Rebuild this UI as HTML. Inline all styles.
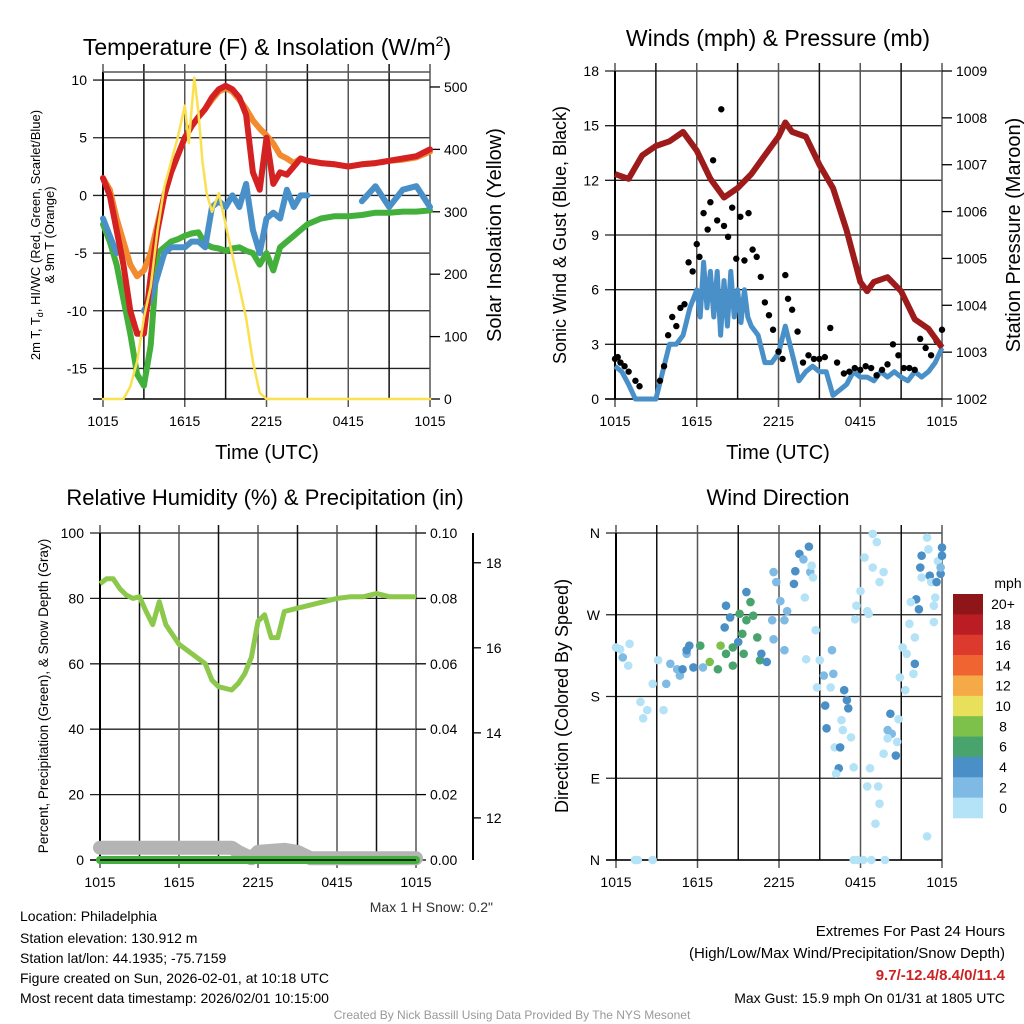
<!DOCTYPE html>
<html><head><meta charset="utf-8"><style>
html,body{margin:0;padding:0;background:#fff;}
svg{display:block;font-family:"Liberation Sans",sans-serif;}
</style></head><body>
<svg id="root" width="1024" height="1024" viewBox="0 0 1024 1024">
<g id="p1"></g>
<g id="p2"></g>
<g id="p3"></g>
<g id="p4"></g>
<g id="txt">
<text x="267" y="55" font-size="23" text-anchor="middle">Temperature (F) &amp; Insolation (W/m<tspan font-size="14" dy="-9">2</tspan><tspan dy="9">)</tspan></text>
<text x="778" y="46" font-size="23" text-anchor="middle">Winds (mph) &amp; Pressure (mb)</text>
<text x="265" y="505" font-size="22" text-anchor="middle">Relative Humidity (%) &amp; Precipitation (in)</text>
<text x="778" y="505" font-size="22" text-anchor="middle">Wind Direction</text>
<text x="493" y="912" font-size="14" text-anchor="end" fill="#333">Max 1 H Snow: 0.2"</text>
<text x="20" y="921" font-size="14">Location: Philadelphia</text>
<text x="20" y="943" font-size="14">Station elevation: 130.912 m</text>
<text x="20" y="963" font-size="14">Station lat/lon: 44.1935; -75.7159</text>
<text x="20" y="983" font-size="14">Figure created on Sun, 2026-02-01, at 10:18 UTC</text>
<text x="20" y="1003" font-size="14">Most recent data timestamp: 2026/02/01 10:15:00</text>
<text x="1005" y="936" font-size="15" text-anchor="end">Extremes For Past 24 Hours</text>
<text x="1005" y="958" font-size="15" text-anchor="end">(High/Low/Max Wind/Precipitation/Snow Depth)</text>
<text x="1005" y="980" font-size="15" font-weight="bold" fill="#cc2222" text-anchor="end">9.7/-12.4/8.4/0/11.4</text>
<text x="1005" y="1003" font-size="14" text-anchor="end">Max Gust: 15.9 mph On 01/31 at 1805 UTC</text>
<text x="512" y="1019" font-size="12" fill="#999" text-anchor="middle">Created By Nick Bassill Using Data Provided By The NYS Mesonet</text>
</g>
</svg>
<script>
// ---- data (time in hours since 1015 UTC) ----
const timeLabels = ["1015","1615","2215","0415","1015"];
const tT = [0,0.5,1,1.5,2,2.5,3,3.5,4,4.5,5,5.5,6,6.5,7,7.5,8,8.5,9,9.5,10,10.5,11,11.5,12,12.5,13,13.5,14,14.5,15,16,17,18,19,20,21,22,23,24];
const tempRed = [1.5,0,-3,-6,-10,-12,-12,-7,-3,0,2,3.5,5,6,6.8,7.5,8.5,9.2,9.5,9.2,8.5,7,2,0.5,5,1,2,1.8,2.5,3.2,3.0,2.8,2.7,2.5,2.7,2.8,3.0,3.2,3.4,4];
const temp9m = [1.5,0.5,-2,-4,-6,-7,-6.5,-5,-2.5,0,2,3.5,5,6,6.8,7.5,8.3,9,9.3,9,8.3,7.5,6.5,5.8,5.2,4.5,3.5,3.2,2.8,3.2,3.0,2.8,2.7,2.5,2.7,2.8,3.0,3.1,3.3,3.8];
const dewGreen = [-2.5,-4,-6,-9,-12,-15.5,-16.5,-13,-5,-4.5,-4,-3.8,-3.5,-3.3,-3.2,-4.2,-4.5,-4.6,-4.8,-4.6,-4.5,-4.8,-5,-6,-5,-6.5,-4.5,-4,-3.5,-3,-2.5,-2.0,-1.8,-1.8,-1.7,-1.5,-1.5,-1.4,-1.4,-1.3];
const chillBlue = [-2,-3.5,-5,null,null,null,-10,-9,-7,-5,-4.5,-4.5,-4.5,-4,-4,-4.5,-1,-0.5,-1,0,-1,1,-3,-5,-2,-1.5,-2,0.5,-1,0,0,null,null,null,-0.5,0.8,-1,0.5,0.8,-1];
const solarT = [0,1.5,2,2.5,3,3.5,4,4.5,5,5.5,6,6.3,6.7,7,7.3,7.6,8,8.5,9,9.5,10,10.5,11,11.5,12,24];
const solar = [0,0,20,60,130,180,270,340,380,420,470,410,515,460,380,330,300,330,280,230,180,130,60,10,0,0];
const windT = [0,0.5,1,1.5,2,2.5,3,3.5,4,4.5,5,5.5,6,6.25,6.5,6.75,7,7.25,7.5,7.75,8,8.25,8.5,8.75,9,9.25,9.5,9.75,10,10.5,11,11.5,12,12.5,13,13.5,14,14.5,15,15.5,16,16.5,17,17.5,18,18.5,19,19.5,20,20.5,21,21.5,22,22.5,23,23.5,24];
const windSpeed = [1.8,1.5,0.8,0,0,0,0,1.5,3,3,3.5,5,6,4.5,7.5,5,7,4.5,7,3.5,6.5,4,7,4.5,6,4.2,6,4.5,4,3.5,2,2,2.5,4,2.5,1,1.5,1.8,1.5,1.5,0.2,0.5,0.8,1.5,1.2,1.2,1.0,1.5,1.2,1.5,1.2,1.0,1.5,1.2,1.5,2.0,2.8];
const gustT = [0,0.2,0.4,0.7,1,1.5,1.8,3.3,3.6,3.9,4.2,4.5,4.8,5.1,5.4,5.7,6,6.2,6.5,6.8,7,7.2,7.5,7.8,8,8.3,8.6,8.9,9.2,9.5,9.8,10.1,10.4,10.7,11,11.3,11.6,12,12.3,12.5,12.7,13,13.4,13.8,14.2,14.6,15,15.4,15.8,16.3,16.8,17.2,17.6,18,18.4,18.8,19.2,19.6,20,20.4,20.8,21.2,21.6,22,22.4,22.8,23.2,23.6,24];
const gustSpeed = [2.2,2.3,2.0,1.8,1.5,1.0,0.7,1.0,1.8,3.5,4.5,4,5,5.2,7.5,7,8.5,7.8,10.2,9.3,10.8,13.1,9.8,15.9,9.5,8.9,10.5,7.7,10,7.6,10.2,8.2,7.8,6.7,5.3,4.6,3.8,2.6,2.2,6.8,5.5,4.9,3.7,2.0,2.4,2.2,2.2,2.3,3.9,2.0,1.4,1.5,1.7,1.6,1.8,1.7,1.3,1.6,1.9,3.0,2.4,1.7,1.7,1.6,3.3,2.8,2.4,3.2,3.8];
const presT = [0,1,2,3,4,5,6,7,8,9,10,11,12,12.5,13,14,15,16,17,18,18.5,19,20,21,22,23,24];
const pressure = [1006.8,1006.7,1007.2,1007.4,1007.5,1007.7,1007.3,1006.7,1006.3,1006.5,1006.8,1007.2,1007.6,1007.9,1007.7,1007.6,1007.0,1006.5,1005.6,1004.5,1004.3,1004.5,1004.6,1004.3,1003.7,1003.5,1003.1];
const rhT = [0,0.5,1,1.5,2,2.5,3,3.5,4,4.5,5,6,7,8,8.5,9,10,10.5,11,11.5,12,12.5,13,13.5,14,15,16,17,18,19,20,21,22,23,24];
const rh = [84.5,86,86,83,81,80,80.5,76,72,79,72,66,63,60,55,53,52,54,57,62,73,75,68,68,76,77,78,79,80,80.5,80.5,81.5,80.5,80.5,80.5];
const snowT = [0,10,10.5,11.5,12,14,15,16,24];
const snowDepth = [11.3,11.3,11.2,11.05,11.2,11.25,11.2,11.05,11.05];
const precipT = [0,24];
const precip = [0,0];
const dirT = [0,0.3,0.5,0.9,1,1.8,2.3,2,2.7,3.1,3.5,3.7,4,4.5,4.7,5.2,5.7,5.4,6.4,6.2,6.2,6.9,7.7,7.5,8.1,8.6,9.1,9.6,9.9,10.1,9.3,9.4,10.4,10.6,8.6,8.1,8,8.4,9,9.6,10.7,11.1,4.9,5.2,11.6,11.8,12.1,12.6,13.1,13.2,13.5,13.8,14.2,14.3,14.4,14.7,11.6,12.4,11.5,12.4,13.9,14,14.5,15,14.8,15.3,15.9,16,15.4,15.5,15.8,16.1,16.5,16.6,16.7,16.8,17,17.1,17.3,16.4,16.2,17.5,17.7,17.6,18,18.3,18.5,18.6,18.7,18.5,18.9,19.2,18.9,19.3,19.4,19.1,19.4,19.7,20.2,20,20.3,20,20.6,19.7,20.7,20.8,20.9,21.1,21.4,21.3,21.6,21.9,22,22.1,22.3,21.7,22,22.4,22.5,22.5,22.9,23,23.1,23.2,23.4,23.4,23.5,23.6,23.7,23.9,24,24,23.9,22.9,1.4,1.6,2.7,17.5,17.8,18.2,18.8,19.8];
const dirDeg = [234,232,223,214,238,174,165,156,194,220,165,194,216,210,203,227,212,236,212,236,236,218,236,210,227,234,271,264,284,269,249,227,245,220,214,280,256,267,240,295,227,218,210,231,317,306,285,274,304,318,337,331,345,317,324,253,243,231,264,264,289,221,311,220,190,203,231,205,170,145,190,124,124,154,143,187,176,167,135,101,95,102,280,265,296,333,274,271,101,81,359,350,322,81,62,40,306,317,161,143,139,134,115,117,130,155,201,234,227,187,260,205,216,287,276,284,245,322,311,335,355,342,313,306,280,262,289,306,329,315,344,335,322,26,0,0,0,0,0,0,0,0];
const dirSpeed = [1,1,2,1,1,1,1,1,1,1,1,2,2,2,3,3,5,5,3,3,7,9,9,7,7,7,7,7,7,7,7,7,7,7,7,5,5,5,5,5,5,5,5,5,3,3,3,3,5,5,5,3,5,3,1,1,3,3,3,3,1,1,1,1,1,3,3,3,5,5,1,1,5,1,1,5,5,5,1,5,1,1,1,1,1,1,1,1,1,1,1,1,1,1,1,1,1,1,5,3,3,1,5,1,1,1,1,1,1,1,1,1,5,5,5,1,1,5,1,5,1,1,5,1,1,1,1,5,1,5,5,5,3,1,1,1,1,1,1,1,1,1];
const legendLabels = ["20+","18","16","14","12","10","8","6","4","2","0"];
const legendColors = ["#8e1518","#bb1d24","#dc3a2c","#ef6430","#f5a947","#e8e05a","#7dc14a","#48a46c","#4a8fc5","#7fbae4","#b4e2f6"];
const speedColors = ["#b4e2f6","#7fbae4","#4a8fc5","#48a46c","#7dc14a","#e8e05a","#f5a947","#ef6430","#dc3a2c","#bb1d24","#8e1518"];

const NS="http://www.w3.org/2000/svg";
function mk(parent,tag,attrs){const e=document.createElementNS(NS,tag);for(const k in attrs)e.setAttribute(k,attrs[k]);parent.appendChild(e);return e;}
function scale(d0,d1,r0,r1){return v=>r0+(v-d0)/(d1-d0)*(r1-r0);}
function pathD(xs,ys,sx,sy){let d="",pen=false;for(let i=0;i<xs.length;i++){if(ys[i]===null){pen=false;continue;}d+=(pen?"L":"M")+sx(xs[i]).toFixed(1)+","+sy(ys[i]).toFixed(1);pen=true;}return d;}

function frame(g,L,R,T,B,sx,ticksY,sy,labelsY,rightTicks,rsy,rlabels){
  ticksY.forEach((v,i)=>{const y=sy(v);const l=mk(g,'line',{x1:L-10,x2:R,y1:y,y2:y,stroke:'#222','stroke-width':1.3});
  
  const t=mk(g,'text',{x:L-16,y:y+5,'font-size':14,'text-anchor':'end'});t.textContent=labelsY[i];
  });
  for(let h=0;h<=24;h+=3){const x=sx(h);const l=mk(g,'line',{x1:x,x2:x,y1:T-8,y2:B+(h%6==0?8:0),stroke:h%6==0?'#555':'#111','stroke-width':1.5});
  }
  timeLabels.forEach((s,i)=>{const t=mk(g,'text',{x:sx(i*6),y:B+27,'font-size':14,'text-anchor':'middle'});t.textContent=s;
  });
  const ax=mk(g,'line',{x1:L,x2:L,y1:T,y2:B,stroke:'#000','stroke-width':2});
  
  const bx=mk(g,'line',{x1:L-10,x2:R,y1:B,y2:B,stroke:'#000','stroke-width':1.5});
  
  if(rightTicks){rightTicks.forEach((v,i)=>{const y=rsy(v);mk(g,'line',{x1:R,x2:R+10,y1:y,y2:y,stroke:'#000','stroke-width':1.3});
   const t=mk(g,'text',{x:R+14,y:y+5,'font-size':14});t.textContent=rlabels[i];
   });}
}

// ---- Panel 1 ----
(function(){const g=document.getElementById('p1');const L=103,R=430,T=72,B=399;
 const sx=scale(0,24,L,R),sy=scale(-17.65,10.7,B,T),rsy=scale(0,524,B,T);
 frame(g,L,R,T,B,sx,[10,5,0,-5,-10,-15],sy,["10","5","0","-5","-10","-15"],[0,100,200,300,400,500],rsy,["0","100","200","300","400","500"]);
 mk(g,'line',{x1:L,x2:R,y1:T,y2:T,stroke:'#555','stroke-width':1.5});
 const add=(d,c,w,n)=>{const p=mk(g,'path',{d:d,fill:'none',stroke:c,'stroke-width':w,'stroke-linejoin':'round','stroke-linecap':'round'});};
 add(pathD(tT,temp9m,sx,sy),'#f28a30',6,'temp-9m-line');
 add(pathD(tT,dewGreen,sx,sy),'#44b03c',6,'dewpoint-line');
 add(pathD(tT,chillBlue,sx,sy),'#4a90c8',6,'windchill-line');
 add(pathD(tT,tempRed,sx,sy),'#d42222',6,'temp-2m-line');
 add(pathD(solarT,solar,sx,rsy),'#fbe050',2.5,'solar-line');
 let t=mk(g,'text',{x:267,y:459,'font-size':20,'text-anchor':'middle'});t.textContent='Time (UTC)';
 t=mk(g,'text',{transform:'translate(40,235) rotate(-90)','font-size':13,'text-anchor':'middle'});t.innerHTML='2m T, T<tspan font-size="9" dy="3">d</tspan><tspan dy="-3">, HI/WC (Red, Green, Scarlet/Blue)</tspan>';
 t=mk(g,'text',{transform:'translate(54,235) rotate(-90)','font-size':13,'text-anchor':'middle'});t.textContent='& 9m T (Orange)';
 t=mk(g,'text',{transform:'translate(501,235) rotate(-90)','font-size':20,'text-anchor':'middle'});t.textContent='Solar Insolation (Yellow)';
})();

// ---- Panel 2 ----
(function(){const g=document.getElementById('p2');const L=615,R=942,T=71,B=399;
 const sx=scale(0,24,L,R),sy=scale(0,18,B,T),rsy=scale(1002,1009,B,T);
 frame(g,L,R,T,B,sx,[18,15,12,9,6,3,0],sy,["18","15","12","9","6","3","0"],[1002,1003,1004,1005,1006,1007,1008,1009],rsy,["1002","1003","1004","1005","1006","1007","1008","1009"]);
 let p=mk(g,'path',{d:pathD(windT,windSpeed,sx,sy),fill:'none',stroke:'#4a90c8','stroke-width':5,'stroke-linejoin':'round'});
 gustT.forEach((h,i)=>{const c=mk(g,'circle',{cx:sx(h),cy:sy(gustSpeed[i]),r:3.2,fill:'#000'});
  });
 p=mk(g,'path',{d:pathD(presT,pressure,sx,rsy),fill:'none',stroke:'#9e1b1b','stroke-width':6,'stroke-linejoin':'round'});
 let t=mk(g,'text',{x:778,y:459,'font-size':20,'text-anchor':'middle'});t.textContent='Time (UTC)';
 t=mk(g,'text',{transform:'translate(566,235) rotate(-90)','font-size':18,'text-anchor':'middle'});t.textContent='Sonic Wind & Gust (Blue, Black)';
 t=mk(g,'text',{transform:'translate(1020,235) rotate(-90)','font-size':20,'text-anchor':'middle'});t.textContent='Station Pressure (Maroon)';
})();

// ---- Panel 3 ----
(function(){const g=document.getElementById('p3');const L=100,R=416,T=533,B=860;
 const sx=scale(0,24,L,R),sy=scale(0,100,B,T),ssy=scale(11.01,18.7,B,T);
 frame(g,L,R,T,B,sx,[100,80,60,40,20,0],sy,["100","80","60","40","20","0"],[0,0.02,0.04,0.06,0.08,0.1].map(v=>v*1000),scale(0,100,B,T),["0.00","0.02","0.04","0.06","0.08","0.10"]);
 const ax=mk(g,'line',{x1:473,x2:473,y1:T,y2:B,stroke:'#000','stroke-width':2});
 [12,14,16,18].forEach(v=>{const y=ssy(v);mk(g,'line',{x1:473,x2:481,y1:y,y2:y,stroke:'#000','stroke-width':1.3});
  const t=mk(g,'text',{x:486,y:y+5,'font-size':14});t.textContent=String(v);});
 let p=mk(g,'path',{d:pathD(snowT,snowDepth,sx,ssy),fill:'none',stroke:'#b4b4b4','stroke-width':14,'stroke-linecap':'round','stroke-linejoin':'round'});
 p=mk(g,'path',{d:pathD(precipT,precip.map(v=>v*1000),sx,sy),fill:'none',stroke:'#44b03c','stroke-width':8,'stroke-linecap':'round'});
 mk(g,'line',{x1:L,x2:R,y1:B,y2:B,stroke:'#000','stroke-width':1.5});
 p=mk(g,'path',{d:pathD(rhT,rh,sx,sy),fill:'none',stroke:'#8cc84b','stroke-width':5,'stroke-linejoin':'round'});
 const t=mk(g,'text',{transform:'translate(48,696) rotate(-90)','font-size':13.5,'text-anchor':'middle'});t.textContent='Percent, Precipitation (Green), & Snow Depth (Gray)';
})();

// ---- Panel 4 ----
(function(){const g=document.getElementById('p4');const L=616,R=942,T=533,B=860;
 const sx=scale(0,24,L,R),sy=scale(0,360,B,T);
 frame(g,L,R,T,B,sx,[360,270,180,90,0],sy,["N","W","S","E","N"],null);
 dirT.forEach((h,i)=>{const c=mk(g,'circle',{cx:sx(h),cy:sy(dirDeg[i]),r:4.3,fill:speedColors[Math.min(10,Math.floor(dirSpeed[i]/2))]});
  });
 let t=mk(g,'text',{transform:'translate(568,696) rotate(-90)','font-size':18,'text-anchor':'middle'});t.textContent='Direction (Colored By Speed)';
 t=mk(g,'text',{x:1008,y:588,'font-size':14,'text-anchor':'middle'});t.textContent='mph';
 const bh=224/legendColors.length;
 legendColors.forEach((c,i)=>{const r=mk(g,'rect',{x:953,y:594+i*bh,width:30,height:bh+0.3,fill:c});
  
  const tl=mk(g,'text',{x:1003,y:594+i*bh+bh/2+5,'font-size':14,'text-anchor':'middle'});tl.textContent=legendLabels[i];
  });
})();
</script>
</body></html>
